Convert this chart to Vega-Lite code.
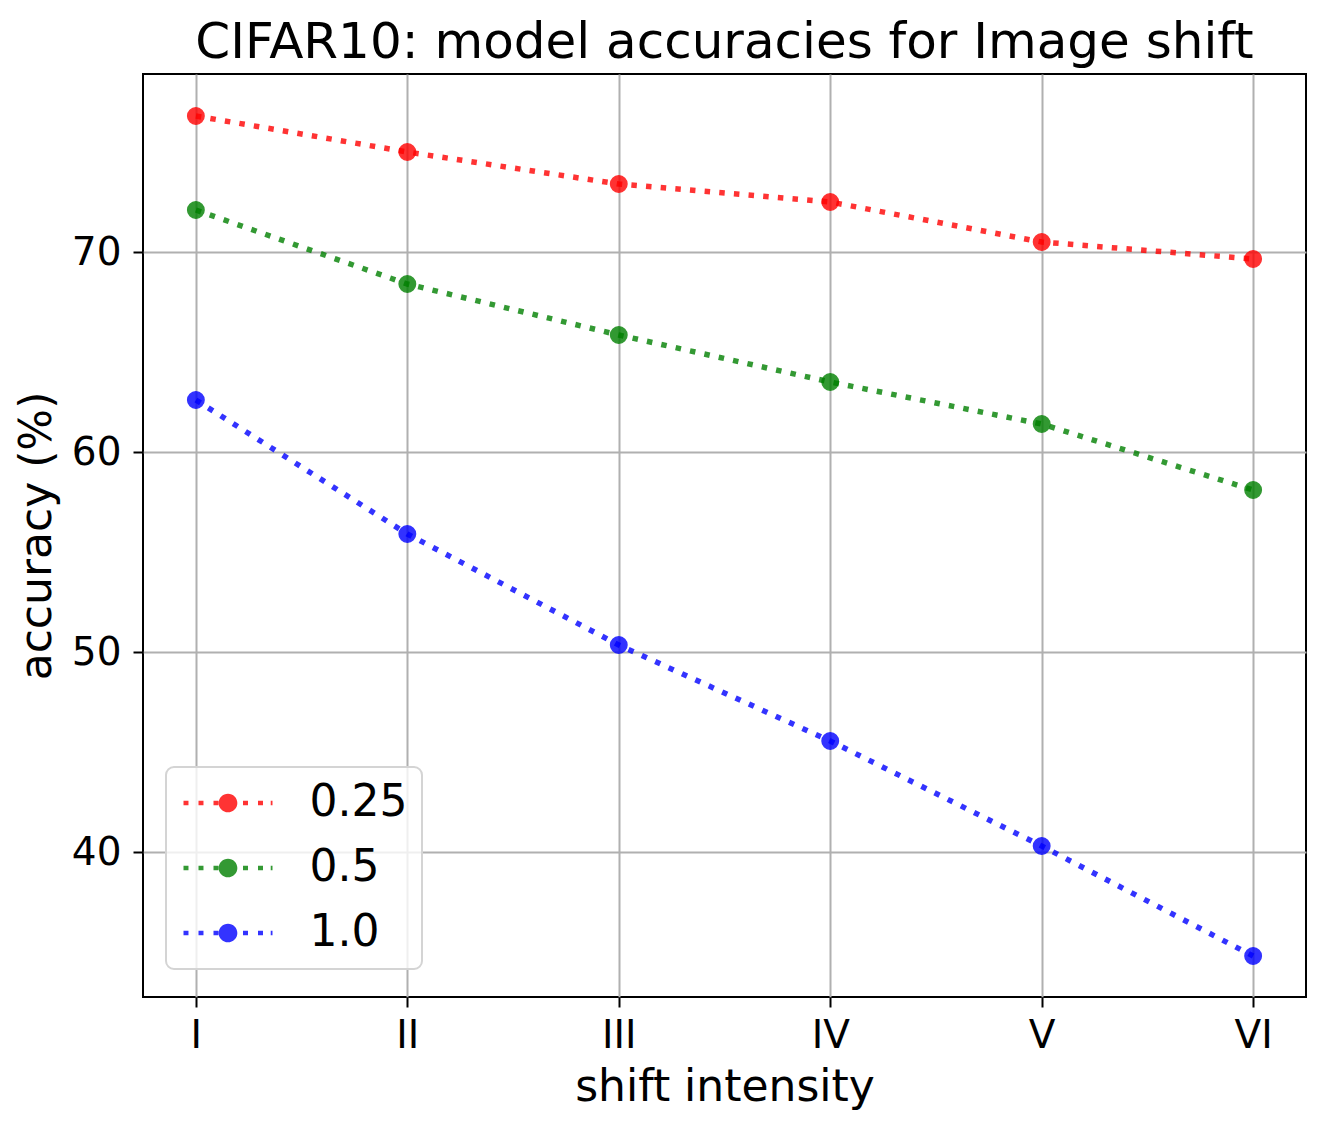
{
  "$schema": "https://vega.github.io/schema/vega-lite/v6.json",
  "autosize": {"type": "none"},
  "padding": {"left": 143, "top": 74, "right": 19, "bottom": 133},
  "width": 1163,
  "height": 923,
  "background": "white",
  "title": {
    "text": "CIFAR10: model accuracies for Image shift",
    "font": "DejaVu Sans",
    "fontSize": 50,
    "fontWeight": "normal",
    "color": "black",
    "anchor": "middle",
    "baseline": "alphabetic",
    "offset": -34
  },
  "data": {
    "values": [
      {"shift": "I", "multiplier": "0.25", "accuracy": 76.8},
      {"shift": "II", "multiplier": "0.25", "accuracy": 75.0},
      {"shift": "III", "multiplier": "0.25", "accuracy": 73.4},
      {"shift": "IV", "multiplier": "0.25", "accuracy": 72.5},
      {"shift": "V", "multiplier": "0.25", "accuracy": 70.5},
      {"shift": "VI", "multiplier": "0.25", "accuracy": 69.65},
      {"shift": "I", "multiplier": "0.5", "accuracy": 72.1},
      {"shift": "II", "multiplier": "0.5", "accuracy": 68.4},
      {"shift": "III", "multiplier": "0.5", "accuracy": 65.85},
      {"shift": "IV", "multiplier": "0.5", "accuracy": 63.5},
      {"shift": "V", "multiplier": "0.5", "accuracy": 61.4},
      {"shift": "VI", "multiplier": "0.5", "accuracy": 58.1},
      {"shift": "I", "multiplier": "1.0", "accuracy": 62.6},
      {"shift": "II", "multiplier": "1.0", "accuracy": 55.9},
      {"shift": "III", "multiplier": "1.0", "accuracy": 50.35},
      {"shift": "IV", "multiplier": "1.0", "accuracy": 45.55},
      {"shift": "V", "multiplier": "1.0", "accuracy": 40.3},
      {"shift": "VI", "multiplier": "1.0", "accuracy": 34.8}
    ]
  },
  "encoding": {
    "x": {
      "field": "shift",
      "type": "ordinal",
      "sort": ["I", "II", "III", "IV", "V", "VI"],
      "scale": {"type": "point", "padding": 0.25},
      "title": "shift intensity",
      "axis": {
        "labelAngle": 0,
        "labelFontSize": 39,
        "labelPadding": 9,
        "titleFontSize": 44,
        "titlePadding": 10
      }
    },
    "y": {
      "field": "accuracy",
      "type": "quantitative",
      "scale": {"domain": [32.75, 78.9], "nice": false, "zero": false},
      "title": "accuracy (%)",
      "axis": {
        "values": [40, 50, 60, 70],
        "labelFontSize": 39,
        "labelPadding": 12,
        "titleFontSize": 44,
        "titlePadding": 21,
        "titleBaseline": "alphabetic"
      }
    },
    "color": {
      "field": "multiplier",
      "type": "nominal",
      "sort": ["0.25", "0.5", "1.0"],
      "scale": {"domain": ["0.25", "0.5", "1.0"], "range": ["#ff0000", "#008000", "#0000ff"]},
      "legend": {
        "orient": "none",
        "legendX": 23,
        "legendY": 693,
        "title": null,
        "symbolType": "M-1,-0.053h0.112v0.106h-0.112Z M-0.663,-0.053h0.112v0.106h-0.112Z M-0.326,-0.053h0.112v0.106h-0.112Z M0.337,-0.053h0.112v0.106h-0.112Z M0.674,-0.053h0.112v0.106h-0.112Z M0.96,-0.053h0.04v0.106h-0.04Z M-0.21,0a0.21,0.21 0 1,0 0.42,0a0.21,0.21 0 1,0 -0.42,0Z",
        "symbolSize": 7921,
        "symbolStrokeWidth": 0,
        "symbolOpacity": 0.8,
        "symbolOffset": 3.5,
        "clipHeight": 44,
        "labelFont": "DejaVu Sans",
        "labelFontSize": 44,
        "labelColor": "black",
        "labelOffset": 37,
        "rowPadding": 21,
        "padding": 14,
        "fillColor": "rgba(255,255,255,0.8)",
        "strokeColor": "#d4d4d4",
        "cornerRadius": 8,
        "encode": {
          "legend": {"update": {"strokeWidth": {"value": 2}}},
          "symbols": {
            "update": {
              "fill": {"scale": "color", "field": "value"},
              "stroke": {"value": "transparent"}
            }
          }
        }
      }
    }
  },
  "layer": [
    {
      "mark": {
        "type": "line",
        "strokeWidth": 5.5,
        "strokeDash": [5.5, 9.2],
        "strokeCap": "butt",
        "opacity": 0.8
      }
    },
    {
      "mark": {
        "type": "point",
        "shape": "circle",
        "filled": true,
        "size": 270,
        "strokeWidth": 1.5,
        "opacity": 0.8
      },
      "encoding": {
        "stroke": {
          "field": "multiplier",
          "type": "nominal",
          "scale": {"domain": ["0.25", "0.5", "1.0"], "range": ["#ff0000", "#008000", "#0000ff"]},
          "legend": null
        }
      }
    }
  ],
  "config": {
    "font": "DejaVu Sans",
    "view": {"stroke": "black", "strokeWidth": 2},
    "axis": {
      "labelFont": "DejaVu Sans",
      "titleFont": "DejaVu Sans",
      "labelColor": "black",
      "titleColor": "black",
      "titleFontWeight": "normal",
      "domain": false,
      "grid": true,
      "gridColor": "#b0b0b0",
      "gridWidth": 2,
      "tickColor": "black",
      "tickWidth": 2,
      "tickSize": 10
    }
  }
}
